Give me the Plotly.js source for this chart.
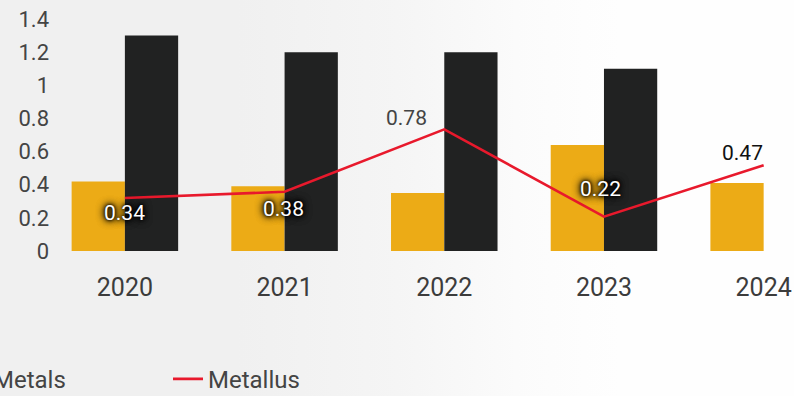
<!DOCTYPE html>
<html><head><meta charset="utf-8">
<script src="https://cdn.plot.ly/plotly-3.0.1.min.js"></script>
<style>
html,body{margin:0;padding:0;}
#chart{width:794px;height:396px;background:linear-gradient(to right,#f0f0f0 0%,#f0f0f0 30%,#f5f5f5 50%,#fbfbfb 65%,#fefefe 78%,#fefefe 100%);}
</style></head>
<body><div id="chart"></div>
<script>
const years = ["2020","2021","2022","2023","2024"];
const metalsValues = [0.42, 0.39, 0.35, 0.64, 0.41];
const darkValues = [1.30, 1.20, 1.20, 1.10, null];
const metallusValues = [0.34, 0.38, 0.78, 0.22, 0.55];
const metallusLabels = ["0.34", "0.38", "0.78", "0.22", "0.47"];

// label styling (not data)
const glow = "0px 0px 8px #000, 0px 0px 8px #000, 0px 0px 5px #000, 0px 0px 3px #000";
const labelStyle = [
  {color:"#ffffff", shadow:glow, xshift:0, yshift:-15},
  {color:"#ffffff", shadow:glow, xshift:-1, yshift:-17},
  {color:"#444444", shadow:"none", xshift:-38, yshift:11},
  {color:"#ffffff", shadow:glow, xshift:-3, yshift:28},
  {color:"#111111", shadow:"none", xshift:-21, yshift:12}
];

const traces = [
  {type:"bar", x:years, y:metalsValues, name:"Metals", marker:{color:"#ECAB16"}, showlegend:true, hoverinfo:"none"},
  {type:"bar", x:years, y:darkValues, name:"", marker:{color:"#212222"}, showlegend:false, hoverinfo:"none"},
  {type:"scatter", mode:"lines", x:years, y:metallusValues, yaxis:"y2", name:"Metallus",
   line:{color:"#E8192C", width:2.6}, hoverinfo:"none"}
];

// category axis: annotations use category index
const annotations = years.map((yr, i) => ({
  x: i, y: metallusValues[i], xref:"x", yref:"y2", text: metallusLabels[i],
  showarrow:false, xshift: labelStyle[i].xshift, yshift: labelStyle[i].yshift,
  font:{family:"Roboto, sans-serif", size:21, color:labelStyle[i].color, shadow:labelStyle[i].shadow}
}));

const layout = {
  width:794, height:396,
  paper_bgcolor:"rgba(0,0,0,0)", plot_bgcolor:"rgba(0,0,0,0)",
  margin:{l:69, r:0, t:19, b:145, autoexpand:false},
  barmode:"group", bargap:0.333, bargroupgap:0,
  font:{family:"Roboto, sans-serif", color:"#444444"},
  xaxis:{type:"category", range:[-0.35, 4.19], showgrid:false, zeroline:false, showline:false, ticks:"",
    tickfont:{size:25, color:"#3c3c3c"}, ticklabelstandoff:19},
  yaxis:{range:[0,1.4], dtick:0.2, showgrid:false, zeroline:false, showline:false, ticks:"",
    tickfont:{size:22, color:"#444444"}, ticklabelstandoff:19},
  yaxis2:{overlaying:"y", range:[0,1.488], visible:false, showgrid:false, zeroline:false},
  showlegend:true,
  legend:{orientation:"h", x:-0.16, xanchor:"left", y:-0.456, yanchor:"top",
    font:{size:24, color:"#444444"}, bgcolor:"rgba(0,0,0,0)", entrywidth:170, traceorder:"normal"},
  annotations: annotations
};

Plotly.newPlot("chart", traces, layout, {staticPlot:true, displayModeBar:false});
</script></body></html>
